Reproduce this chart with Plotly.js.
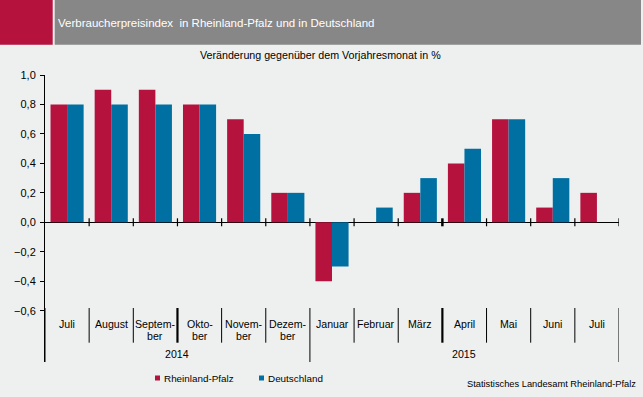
<!DOCTYPE html>
<html><head><meta charset="utf-8">
<script src="https://cdn.plot.ly/plotly-3.0.1.min.js"></script>
<style>html,body{margin:0;padding:0;background:#EEF0EF;}#chart{width:643px;height:397px;}</style>
</head><body><div id="chart"></div>
<script>
// ---- data ----
const categories = ["2014-07","2014-08","2014-09","2014-10","2014-11","2014-12","2015-01","2015-02","2015-03","2015-04","2015-05","2015-06","2015-07"];
const monthLine1 = ["Juli","August","Septem-","Okto-","Novem-","Dezem-","Januar","Februar","März","April","Mai","Juni","Juli"];
const monthLine2 = ["","","ber","ber","ber","ber","","","","","","",""];
const years = ["2014","2015"];
const yearStart = [0, 6];
const yearEnd = [5, 12];
const rheinlandPfalz = [0.8, 0.9, 0.9, 0.8, 0.7, 0.2, -0.4, 0.0, 0.2, 0.4, 0.7, 0.1, 0.2];
const deutschland = [0.8, 0.8, 0.8, 0.8, 0.6, 0.2, -0.3, 0.1, 0.3, 0.5, 0.7, 0.3, null];
const seriesNames = ["Rheinland-Pfalz", "Deutschland"];
const yTickVals = [-0.6, -0.4, -0.2, 0.0, 0.2, 0.4, 0.6, 0.8, 1.0];
const titleText = "Verbraucherpreisindex  in Rheinland-Pfalz und in Deutschland";
const subtitleText = "Veränderung gegenüber dem Vorjahresmonat in %";
const sourceText = "Statistisches Landesamt Rheinland-Pfalz";

// ---- styling ----
const RED = "#B5123E", BLUE = "#0070A3", BG = "#EEF0EF";
const FONT = "Liberation Sans, Arial, sans-serif";
const L = 45, R = 619, T = 75, B = 362;
const px = x => (x - L) / (R - L);
const py = y => (B - y) / (B - T);

const traces = [
  {type: "bar", name: seriesNames[0], x: categories, y: rheinlandPfalz, marker: {color: RED}, hoverinfo: "x+y"},
  {type: "bar", name: seriesNames[1], x: categories, y: deutschland, marker: {color: BLUE}, hoverinfo: "x+y"}
];

const shapes = [];
const annotations = [];
// header
shapes.push({type: "rect", xref: "paper", yref: "paper", x0: px(0), x1: px(52.7), y0: py(44.7), y1: py(-1), fillcolor: RED, line: {width: 0}, layer: "below"});
shapes.push({type: "rect", xref: "paper", yref: "paper", x0: px(54.7), x1: px(641), y0: py(44.7), y1: py(-1), fillcolor: "#878787", line: {width: 0}, layer: "below"});

// x tick marks crossing the zero line
for (let i = 1; i <= categories.length; i++) {
  const b = i - 0.5;
  const thick = (b === 8.5);
  shapes.push({type: "line", xref: "x", yref: "y", ysizemode: "pixel", yanchor: 0, x0: b, x1: b, y0: -4, y1: 4,
    line: {color: "#000", width: thick ? 2.5 : 1.2}});
}
// category separators in the label area
const yearBounds = [-0.5, yearEnd[0] + 0.5, categories.length - 0.5];
for (let i = 0; i <= categories.length; i++) {
  const b = i - 0.5;
  const isYear = yearBounds.includes(b);
  const thick = (b === 2.5 || b === 8.5);
  shapes.push({type: "line", xref: "x", yref: "paper", x0: b, x1: b, y0: py(isYear ? 362 : 342.7), y1: py(308),
    line: {color: "#000", width: thick ? 2.2 : 1}});
}
// month labels
categories.forEach((c, i) => {
  annotations.push({xref: "x", yref: "paper", x: i, y: py(323.5), text: monthLine1[i], showarrow: false,
    xanchor: "center", yanchor: "middle", font: {family: FONT, size: 10.6, color: "#000"}});
  if (monthLine2[i]) {
    annotations.push({xref: "x", yref: "paper", x: i, y: py(335.5), text: monthLine2[i], showarrow: false,
      xanchor: "center", yanchor: "middle", font: {family: FONT, size: 10.6, color: "#000"}});
  }
});
// year labels
years.forEach((yr, k) => {
  annotations.push({xref: "x", yref: "paper", x: (yearStart[k] + yearEnd[k]) / 2, y: py(353.5), text: yr, showarrow: false,
    xanchor: "center", yanchor: "middle", font: {family: FONT, size: 10.6, color: "#000"}});
});
// subtitle
annotations.push({xref: "paper", yref: "paper", x: px(320), y: py(54.5), text: subtitleText, showarrow: false,
  xanchor: "center", yanchor: "middle", font: {family: FONT, size: 10.7, color: "#000"}});
// source
annotations.push({xref: "paper", yref: "paper", x: px(637.5), y: py(384), text: sourceText, showarrow: false,
  xanchor: "right", yanchor: "middle", font: {family: FONT, size: 9.3, color: "#000"}});
// legend (manual)
const legX = [155, 259];
const legColors = [RED, BLUE];
seriesNames.forEach((n, k) => {
  shapes.push({type: "rect", xref: "paper", yref: "paper", x0: px(legX[k]), x1: px(legX[k] + 5), y0: py(380.5), y1: py(375.5),
    fillcolor: legColors[k], line: {width: 0}});
  annotations.push({xref: "paper", yref: "paper", x: px(legX[k] + 6.5), y: py(378), text: n, showarrow: false,
    xanchor: "left", yanchor: "middle", font: {family: FONT, size: 9.9, color: "#000"}});
});

const yBottom = 1.0 - (B - T) / ((222.3 - 75) / 1.0);

const layout = {
  width: 643, height: 397,
  paper_bgcolor: BG, plot_bgcolor: BG,
  margin: {l: L, r: 643 - R, t: T, b: 397 - B, pad: 0},
  separators: ",.",
  showlegend: false,
  barmode: "group", bargap: 0.25, bargroupgap: 0,
  title: {text: titleText, x: 58 / 643, xanchor: "left", xref: "container", y: 1 - 22.7 / 397, yanchor: "middle", yref: "container",
    font: {family: FONT, size: 11.5, color: "#fff"}},
  font: {family: FONT, size: 11, color: "#000"},
  xaxis: {type: "category", range: [-0.5, categories.length - 0.5], showticklabels: false, ticks: "", showline: false,
    showgrid: false, zeroline: false, fixedrange: true},
  yaxis: {range: [yBottom, 1.0], tickvals: yTickVals, tickformat: ".1f", ticks: "outside", ticklen: 4, tickcolor: "#000",
    tickwidth: 1, showline: true, linecolor: "#000", linewidth: 1, showgrid: false, zeroline: true, zerolinecolor: "#000",
    zerolinewidth: 1.3, tickfont: {family: FONT, size: 11, color: "#000"}, ticklabelstandoff: 2, fixedrange: true},
  shapes: shapes,
  annotations: annotations
};

Plotly.newPlot("chart", traces, layout, {displayModeBar: false, staticPlot: true});
</script>
</body></html>
